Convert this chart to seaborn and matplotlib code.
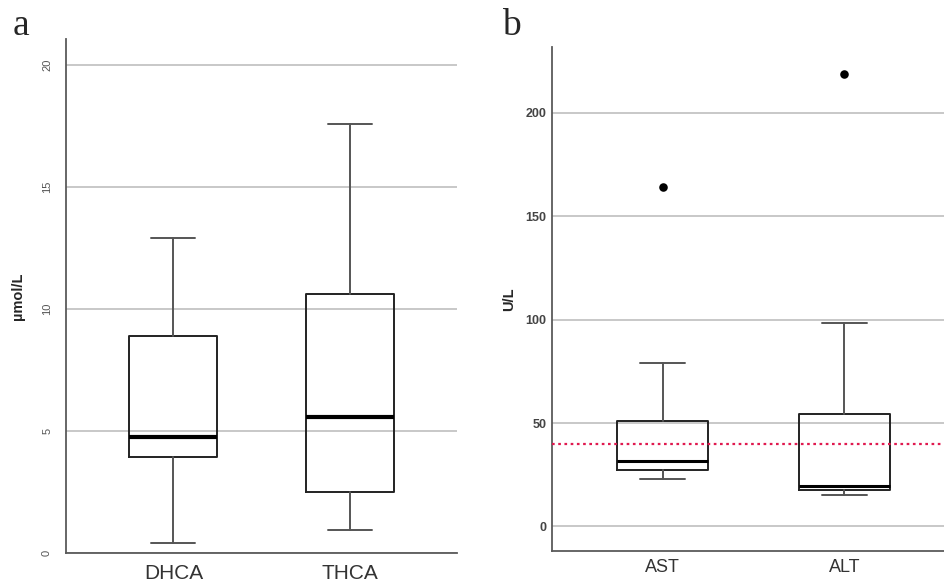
import seaborn as sns
import matplotlib.pyplot as plt
import pandas as pd

# panel a - bile acid intermediates (umol/L), five number summaries
acids = ['DHCA', 'THCA']
acid_low = [0.41, 0.95]
acid_q1 = [3.93, 2.51]
acid_med = [4.77, 5.56]
acid_q3 = [8.90, 10.63]
acid_high = [12.90, 17.58]

# panel b - liver enzymes (U/L)
enzymes = ['AST', 'ALT']
enz_low = [23.1, 15.3]
enz_q1 = [27.4, 17.5]
enz_med = [31.8, 19.5]
enz_q3 = [51.1, 54.2]
enz_high = [79.2, 98.2]
enz_outliers = [164.0, 219.0]
ref_limit = 40

sns.set_theme(style='white')
plt.rcParams['font.family'] = ['Liberation Sans', 'DejaVu Sans']


def make_stats(names, low, q1, med, q3, high):
    stats = []
    for i in range(len(names)):
        stats.append({'label': names[i], 'whislo': low[i], 'q1': q1[i], 'med': med[i],
                      'q3': q3[i], 'whishi': high[i], 'fliers': []})
    return stats


def style_axes(ax):
    for s in ['top', 'right']:
        ax.spines[s].set_visible(False)
    for s in ['left', 'bottom']:
        ax.spines[s].set_color('#5a5a5a')
        ax.spines[s].set_linewidth(1.3)
    ax.grid(axis='y', color='#c4c4c4', linewidth=1.3)
    ax.set_axisbelow(True)
    ax.tick_params(length=0)


def draw_boxes(ax, stats, med_lw=3):
    ax.bxp(stats, positions=range(len(stats)), widths=0.5, capwidths=0.25,
           patch_artist=False, showfliers=False,
           boxprops=dict(color='#222222', linewidth=1.4),
           whiskerprops=dict(color='#555555', linewidth=1.4),
           capprops=dict(color='#555555', linewidth=1.4),
           medianprops=dict(color='black', linewidth=med_lw))


fig = plt.figure(figsize=(9.44, 5.87), dpi=100)

# ---- panel a
ax1 = fig.add_axes([0.0699, 0.0579, 0.4142, 0.8753])
style_axes(ax1)
draw_boxes(ax1, make_stats(acids, acid_low, acid_q1, acid_med, acid_q3, acid_high))
ax1.set_xlim(-0.61, 1.61)
ax1.set_ylim(0, 21.07)
ax1.set_yticks([0, 5, 10, 15, 20])
ax1.set_xticks([0, 1])
ax1.set_xticklabels(acids, fontsize=15, color='#333333')
ax1.tick_params(axis='x', pad=8)
ax1.tick_params(axis='y', pad=10, labelsize=8, labelcolor='#555555')
for lab in ax1.get_yticklabels():
    lab.set_rotation(90)
    lab.set_va('center')
ax1.set_ylabel('µmol/L', fontsize=10.5, fontweight='bold', labelpad=12)

# ---- panel b
ax2 = fig.add_axes([0.5847, 0.0617, 0.427, 0.8587])
style_axes(ax2)
draw_boxes(ax2, make_stats(enzymes, enz_low, enz_q1, enz_med, enz_q3, enz_high), med_lw=2.2)
out_df = pd.DataFrame({'pos': [0, 1], 'value': enz_outliers})
sns.scatterplot(data=out_df, x='pos', y='value', ax=ax2, color='black', s=38,
                edgecolor='black', linewidth=0, zorder=5, legend=False)
ax2.axhline(ref_limit, color='#e0194f', linestyle=(0, (1.2, 1.6)), linewidth=1.6, zorder=4)
ax2.set_xlim(-0.61, 1.61)
ax2.set_ylim(-11.75, 232)
ax2.set_yticks([0, 50, 100, 150, 200])
ax2.set_xticks([0, 1])
ax2.set_xticklabels(enzymes, fontsize=13, color='#333333')
ax2.tick_params(axis='x', pad=6)
ax2.tick_params(axis='y', pad=4, labelsize=9, labelcolor='#444444')
for lab in ax2.get_yticklabels():
    lab.set_fontweight('bold')
ax2.set_xlabel('')
ax2.set_ylabel('U/L', fontsize=10.5, fontweight='bold', labelpad=7)

# panel letters
fig.text(0.013, 0.940, 'a', fontsize=27, family='Liberation Serif', va='baseline')
fig.text(0.532, 0.940, 'b', fontsize=27, family='Liberation Serif', va='baseline')

fig.savefig('out.png', dpi=100)
